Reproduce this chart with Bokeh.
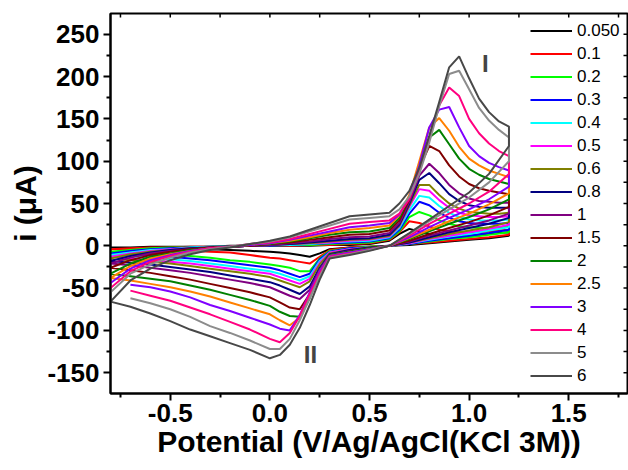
from bokeh.plotting import figure
from bokeh.models import Range1d, FixedTicker, Label, Legend, LegendItem
from bokeh.embed import file_html
from bokeh.resources import INLINE

# ---------------- data ----------------
rates = ["0.050", "0.1", "0.2", "0.3", "0.4", "0.5", "0.6", "0.8",
         "1", "1.5", "2", "2.5", "3", "4", "5", "6"]
colors = ["#000000", "#FF0000", "#00FF00", "#0000FF", "#00FFFF", "#FF00FF",
          "#808000", "#000080", "#800080", "#800000", "#008000", "#FF8000",
          "#8000FF", "#FF0080", "#8C8C8C", "#484848"]

E_fwd = [-0.8, -0.7, -0.6, -0.5, -0.4, -0.3, -0.2, -0.1, 0.0, 0.1, 0.2, 0.3, 0.4,
         0.5, 0.6, 0.65, 0.7, 0.75, 0.8, 0.85, 0.9, 0.95, 1.0, 1.05, 1.1, 1.15, 1.2]
E_rev = [1.2, 1.1, 1.0, 0.9, 0.8, 0.7, 0.6, 0.5, 0.4, 0.3, 0.25, 0.2, 0.15, 0.1,
         0.05, 0.0, -0.1, -0.2, -0.3, -0.4, -0.5, -0.6, -0.7, -0.8]

f_0050 = [-2, -2, -1, -1, -1, -1, 0, 0, 0, 0, 0, 1, 1, 2, 6, 14, 20, 17, 14, 12, 12, 12, 12, 13, 14, 15, 16]
f_01 = [-4, -3, -2, -2, -1, -1, -1, 0, 0, 0, 1, 1, 2, 3, 7, 16, 29, 27, 23, 19, 17, 16, 16, 16, 17, 18, 19]
f_02 = [-7, -5, -3, -2, -2, -1, -1, 0, 0, 1, 1, 2, 3, 4, 8, 17, 34, 40, 36, 30, 26, 23, 22, 21, 21, 22, 23]
f_03 = [-9, -6, -4, -3, -2, -1, -1, 0, 0, 1, 2, 3, 4, 5, 9, 19, 38, 52, 48, 39, 33, 29, 27, 26, 26, 26, 27]
f_04 = [-11, -8, -5, -4, -2, -1, -1, 0, 1, 1, 2, 4, 5, 6, 10, 21, 42, 59, 57, 47, 39, 34, 31, 30, 30, 30, 31]
f_05 = [-13, -9, -6, -4, -3, -2, -1, 0, 1, 2, 3, 4, 6, 7, 11, 23, 46, 67, 65, 54, 45, 39, 36, 35, 34, 34, 35]
f_06 = [-15, -10, -7, -5, -3, -2, -1, 0, 1, 2, 3, 5, 7, 8, 12, 24, 48, 72, 72, 60, 50, 44, 40, 39, 38, 38, 39]
f_08 = [-18, -12, -8, -5, -3, -2, -1, 0, 1, 2, 4, 6, 8, 9, 13, 25, 50, 78, 86, 74, 61, 53, 48, 46, 45, 45, 45]
f_1 = [-21, -14, -9, -6, -4, -2, -1, 0, 1, 3, 5, 8, 10, 11, 15, 27, 52, 83, 97, 86, 72, 62, 56, 53, 52, 51, 51]
f_15 = [-26, -17, -11, -7, -4, -2, -1, 0, 2, 4, 7, 10, 13, 14, 18, 30, 55, 92, 118, 112, 95, 82, 73, 68, 65, 63, 61]
f_2 = [-33, -21, -13, -9, -5, -3, -1, 1, 2, 5, 9, 13, 16, 17, 21, 33, 58, 96, 128, 137, 120, 103, 91, 84, 79, 76, 73]
f_25 = [-38, -24, -15, -10, -6, -3, -1, 1, 3, 6, 10, 15, 19, 21, 24, 36, 60, 100, 140, 151, 136, 117, 103, 95, 89, 85, 81]
f_3 = [-44, -27, -17, -11, -6, -3, -1, 1, 3, 7, 12, 17, 22, 24, 27, 37, 57, 95, 140, 161, 164, 140, 118, 106, 98, 93, 89]
f_4 = [-50, -30, -19, -12, -7, -3, -1, 2, 4, 8, 14, 20, 26, 28, 30, 38, 55, 88, 128, 166, 187, 177, 150, 133, 121, 112, 106]
f_5 = [-55, -33, -22, -14, -8, -4, -1, 2, 5, 10, 17, 24, 31, 33, 35, 43, 58, 85, 122, 165, 203, 207, 185, 163, 148, 137, 128]
f_6 = [-66, -41, -27, -17, -10, -5, -2, 2, 6, 11, 19, 27, 35, 37, 39, 50, 65, 92, 130, 170, 211, 224, 198, 174, 158, 147, 141]

r_0050 = [12, 9, 7, 5, 3, 1, 0, -1, -2, -4, -9, -13, -11, -9, -8, -7, -6, -5, -4, -3, -3, -2, -2, -2]
r_01 = [13, 10, 8, 6, 4, 2, 0, -1, -2, -5, -13, -21, -19, -17, -15, -14, -11, -8, -7, -6, -5, -5, -4, -4]
r_02 = [16, 13, 10, 8, 5, 2, 0, -1, -3, -6, -15, -30, -30, -26, -24, -22, -19, -17, -14, -12, -10, -9, -8, -7]
r_03 = [19, 15, 12, 9, 6, 2, 0, -2, -3, -7, -16, -33, -37, -33, -29, -26, -23, -20, -17, -15, -13, -11, -10, -9]
r_04 = [22, 18, 14, 11, 7, 3, 0, -2, -4, -8, -18, -36, -41, -37, -33, -30, -27, -24, -21, -18, -16, -14, -12, -11]
r_05 = [25, 20, 16, 12, 8, 3, 0, -2, -4, -8, -20, -39, -45, -41, -37, -33, -30, -27, -24, -21, -19, -17, -15, -13]
r_06 = [28, 22, 18, 14, 9, 4, 0, -2, -5, -9, -22, -42, -49, -45, -41, -37, -33, -30, -27, -24, -21, -19, -17, -15]
r_08 = [33, 26, 21, 16, 10, 4, 0, -2, -5, -10, -26, -48, -57, -52, -47, -43, -39, -35, -31, -28, -25, -22, -20, -18]
r_1 = [38, 30, 24, 18, 12, 5, 0, -3, -6, -11, -28, -52, -63, -59, -54, -49, -44, -40, -36, -32, -29, -26, -23, -21]
r_15 = [46, 36, 28, 21, 14, 6, 0, -3, -7, -12, -30, -57, -75, -73, -67, -61, -55, -50, -45, -40, -36, -32, -29, -26]
r_2 = [55, 43, 34, 26, 17, 8, 0, -3, -7, -11, -30, -62, -84, -83, -78, -71, -64, -58, -52, -47, -42, -39, -36, -33]
r_25 = [62, 49, 38, 29, 19, 9, 0, -4, -8, -12, -30, -58, -85, -94, -88, -81, -74, -67, -60, -54, -49, -45, -41, -38]
r_3 = [70, 55, 43, 33, 22, 10, 0, -4, -8, -12, -30, -55, -82, -100, -98, -93, -85, -77, -70, -61, -54, -49, -46, None]
r_4 = [85, 64, 50, 38, 26, 12, 0, -5, -9, -13, -33, -57, -83, -103, -114, -110, -99, -90, -81, -73, -65, -59, -53, None]
r_5 = [100, 75, 57, 43, 29, 14, 0, -5, -10, -14, -36, -62, -88, -110, -122, -122, -112, -103, -95, -84, -75, -68, -62, None]
r_6 = [118, 85, 63, 47, 31, 15, 0, -6, -11, -15, -40, -70, -97, -117, -129, -133, -123, -115, -107, -99, -89, -80, -72, -66]

fwd_sets = [f_0050, f_01, f_02, f_03, f_04, f_05, f_06, f_08, f_1, f_15, f_2, f_25, f_3, f_4, f_5, f_6]
rev_sets = [r_0050, r_01, r_02, r_03, r_04, r_05, r_06, r_08, r_1, r_15, r_2, r_25, r_3, r_4, r_5, r_6]

x_ticks = [-0.5, 0.0, 0.5, 1.0, 1.5]
x_tick_labels = ["-0.5", "0.0", "0.5", "1.0", "1.5"]
x_minor = [-0.75, -0.25, 0.25, 0.75, 1.25, 1.75]
y_ticks = [-150, -100, -50, 0, 50, 100, 150, 200, 250]
y_tick_labels = ["-150", "-100", "-50", "0", "50", "100", "150", "200", "250"]
y_minor = [-175, -125, -75, -25, 25, 75, 125, 175, 225, 275]

FONT = "Liberation Sans"

# ---------------- figure ----------------
W, H = 628, 470
LEFT, RIGHT, TOP, BOTTOM = 110, 1, 13, 77
X0, X1 = -0.8, 1.795
Y0, Y1 = -174.6, 274.6

p = figure(width=W, height=H, output_backend="svg", toolbar_location=None,
           x_range=Range1d(X0, X1), y_range=Range1d(Y0, Y1),
           min_border_left=LEFT, min_border_right=RIGHT, min_border_top=TOP,
           min_border_bottom=BOTTOM)
p.xgrid.visible = False
p.ygrid.visible = False
p.outline_line_color = "black"
p.outline_line_width = 2
p.background_fill_color = "white"
p.border_fill_color = "white"

items = []
for name, col, fv, rv in zip(rates, colors, fwd_sets, rev_sets):
    xs = list(E_fwd)
    ys = list(fv)
    for e, v in zip(E_rev, rv):
        if v is not None:
            xs.append(e)
            ys.append(v)
    r = p.line(xs, ys, line_color=col, line_width=2)
    items.append(LegendItem(label=name, renderers=[r]))

# inner ticks on the top and right frame edges (derived from tick lists)
fw = W - LEFT - RIGHT
fh = H - TOP - BOTTOM
dx = 4 * (X1 - X0) / fw
dy = 4 * (Y1 - Y0) / fh
top_x = sorted(x_ticks + x_minor)
right_y = sorted(y_ticks + y_minor)
p.segment(x0=top_x, y0=[Y1] * len(top_x), x1=top_x, y1=[Y1 - dy] * len(top_x),
          line_color="black", line_width=1.5)
p.segment(x0=[X1] * len(right_y), y0=right_y, x1=[X1 - dx] * len(right_y), y1=right_y,
          line_color="black", line_width=1.5)

xt = FixedTicker(ticks=x_ticks, minor_ticks=x_minor)
yt = FixedTicker(ticks=y_ticks, minor_ticks=y_minor)

for ax in (p.xaxis[0], p.yaxis[0]):
    ax.axis_line_width = 2
    ax.major_tick_line_width = 2
    ax.minor_tick_line_width = 2
    ax.major_tick_out = 7
    ax.major_tick_in = 0
    ax.minor_tick_out = 4
    ax.minor_tick_in = 0
    ax.major_label_text_font = FONT
    ax.major_label_text_font_style = "bold"
    ax.major_label_text_font_size = "26px"
    ax.major_label_text_color = "black"
    ax.axis_label_text_font = FONT
    ax.axis_label_text_font_style = "bold"
    ax.axis_label_text_color = "black"

p.xaxis[0].ticker = xt
p.yaxis[0].ticker = yt
p.xaxis[0].major_label_overrides = dict(zip(x_ticks, x_tick_labels))
p.yaxis[0].major_label_overrides = dict(zip(y_ticks, y_tick_labels))
p.xaxis[0].axis_label = "Potential (V/Ag/AgCl(KCl 3M))"
p.xaxis[0].axis_label_text_font_size = "30px"
p.xaxis[0].major_label_standoff = 3
p.xaxis[0].axis_label_standoff = 0
p.yaxis[0].axis_label = "i (\u03bcA)"
p.yaxis[0].axis_label_text_font_size = "30px"
p.yaxis[0].major_label_standoff = 4
p.yaxis[0].axis_label_standoff = 2

legend = Legend(items=items, location=(417, 3))
legend.label_text_font = FONT
legend.label_text_font_size = "17px"
legend.label_text_color = "black"
legend.glyph_width = 42
legend.glyph_height = 23
legend.label_height = 23
legend.label_standoff = 5
legend.spacing = 0
legend.padding = 3
legend.margin = 0
legend.border_line_alpha = 0
legend.background_fill_alpha = 0
p.add_layout(legend)

p.add_layout(Label(x=1.082, y=215, text="I", text_font=FONT, text_font_style="bold",
                   text_font_size="24px", text_align="center", text_baseline="middle"))
p.add_layout(Label(x=0.204, y=-129, text="II", text_font=FONT, text_font_style="bold",
                   text_font_size="24px", text_align="center", text_baseline="middle"))

open("out.html", "w").write(file_html(p, INLINE))
